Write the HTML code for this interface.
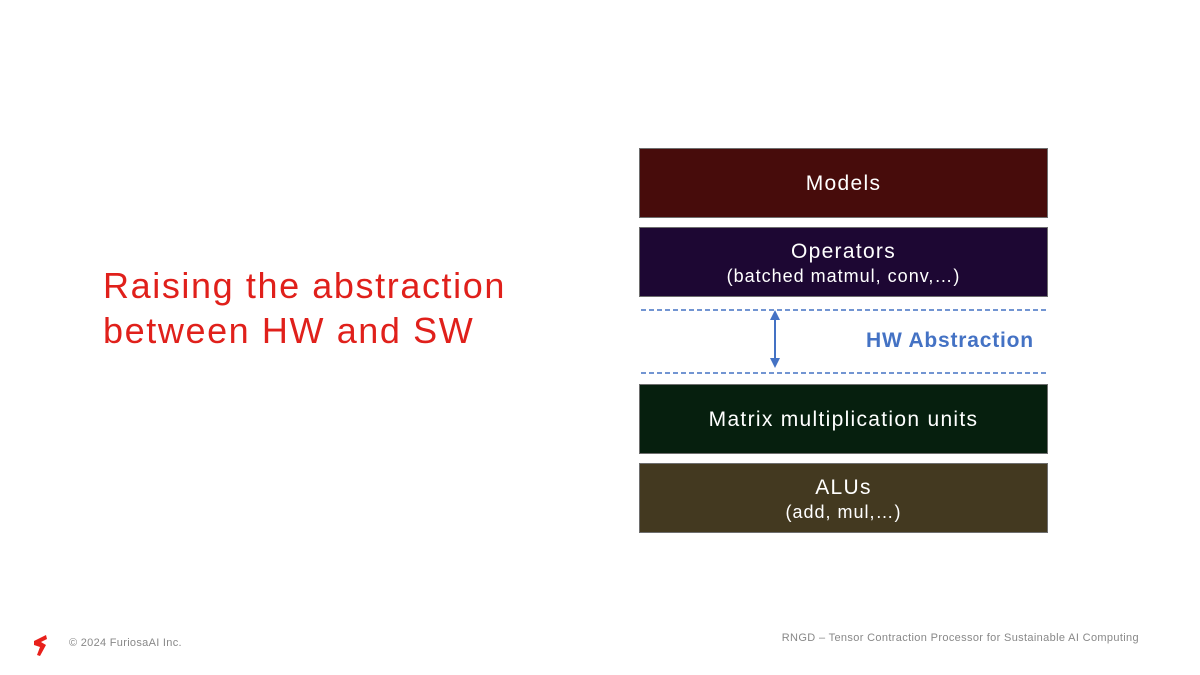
<!DOCTYPE html>
<html><head><meta charset="utf-8"><style>
body{margin:0;width:1200px;height:675px;background:#fff;position:relative;overflow:hidden;font-family:"Liberation Sans",sans-serif}
.b{position:absolute;left:639px;width:407px;height:68px;border:1px solid #6e6e6e;color:#fff;text-align:center;box-sizing:content-box}
.t{font-size:21px;letter-spacing:1.3px}
.s{font-size:18px;letter-spacing:1px}
</style></head><body>
<div style="position:absolute;left:103px;top:263px;color:#e0201b;font-size:36px;line-height:45px;letter-spacing:1.6px">Raising the abstraction<br>between HW and SW</div>
<div class="b" style="top:148px;background:#470c0b"><div class="t" style="line-height:70px">Models</div></div>
<div class="b" style="top:227px;background:#1d0733"><div class="t" style="margin-top:12px">Operators</div><div class="s" style="margin-top:2px">(batched matmul, conv,…)</div></div>
<div class="b" style="top:384px;background:#061f0e"><div class="t" style="line-height:70px">Matrix multiplication units</div></div>
<div class="b" style="top:463px;background:#433920"><div class="t" style="margin-top:12px">ALUs</div><div class="s" style="margin-top:2px">(add, mul,…)</div></div>
<svg style="position:absolute;left:0;top:0" width="1200" height="675">
<line x1="641" y1="310" x2="1046" y2="310" stroke="#4472c4" stroke-width="1.5" stroke-dasharray="5,3"/>
<line x1="641" y1="373" x2="1046" y2="373" stroke="#4472c4" stroke-width="1.5" stroke-dasharray="5,3"/>
<line x1="775" y1="318" x2="775" y2="360" stroke="#4472c4" stroke-width="2"/>
<polygon points="775,310 770,320 780,320" fill="#4472c4"/>
<polygon points="775,368 770,358 780,358" fill="#4472c4"/>
<polygon points="34,641 46,635 47,639 41,642 46,645 40,656 37,655 40,647 34,645" fill="#e8201b"/>
</svg>
<div style="position:absolute;left:866px;top:329px;color:#4472c4;font-size:21px;font-weight:bold;letter-spacing:0.8px">HW Abstraction</div>
<div style="position:absolute;left:69px;top:637px;color:#888;font-size:11px;letter-spacing:0.3px">© 2024 FuriosaAI Inc.</div>
<div style="position:absolute;right:61px;top:632px;color:#888;font-size:11px;letter-spacing:0.35px">RNGD – Tensor Contraction Processor for Sustainable AI Computing</div>
</body></html>
